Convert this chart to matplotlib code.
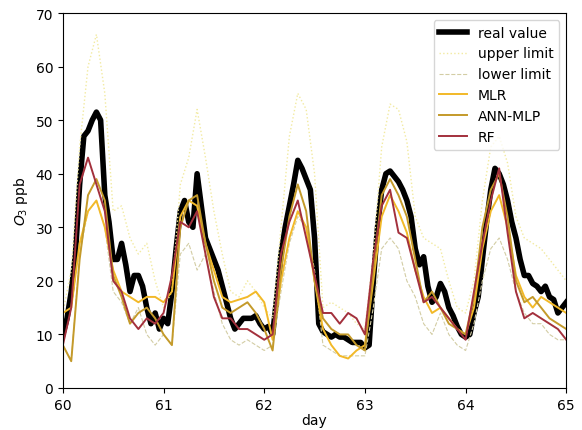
import matplotlib
matplotlib.use("Agg")
import matplotlib.pyplot as plt
import numpy as np

# hourly observed ozone, day 60.0 .. 65.0
real_value = [10, 13, 18, 25, 38, 47, 48, 50, 51.5, 50, 36, 31, 24, 24, 27, 23, 18, 21, 21, 19, 15, 12, 14, 11,
              13, 12, 18, 26, 33, 35, 31, 30, 40, 34, 28, 26, 24, 22, 19, 16, 13, 11, 12, 13, 13, 13, 13.5, 12,
              11, 11.5, 10, 17, 25, 30, 34, 38, 42.5, 41, 39, 37, 28, 12, 10.5, 10, 9.5, 10, 9.5, 9.5, 9, 8.5, 8.5, 8.5,
              7.5, 8, 20, 30, 37, 40, 40.5, 39.5, 38.5, 37, 35, 32, 26, 23, 24.5, 19, 16, 17, 19.5, 18, 15, 13.5, 11.5, 10,
              9.5, 10, 14, 17, 24, 31, 37, 41, 40, 38, 35, 31, 28, 24, 21, 21, 19.5, 19, 18, 19, 17, 16.5, 14, 15, 16]

# two-hourly model outputs and limits
upper_limit = [14, 22, 45, 60, 66, 55, 33, 34, 28, 25, 27, 20,
               15, 18, 38, 43, 52, 43, 33, 25, 18, 17, 20, 18,
               15, 13, 30, 47, 55, 52, 40, 15, 16, 15, 14, 12,
               11, 25, 45, 53, 52, 46, 32, 28, 27, 26, 20, 15,
               14, 20, 35, 45, 47, 42, 32, 28, 27, 26, 24, 22, 20]
lower_limit = [8, 5, 25, 33, 35, 30, 18, 16, 12, 15, 10, 8,
               10, 8, 25, 27, 22, 25, 18, 12, 9, 8, 9, 8,
               7, 8, 18, 27, 32, 30, 22, 8, 7, 6, 6, 6,
               6, 15, 26, 28, 26, 20, 17, 12, 10, 14, 10, 8,
               7, 12, 20, 26, 28, 24, 18, 14, 12, 12, 10, 9, 9]
mlr = [14, 15, 27, 33, 35, 30, 22, 18, 17, 16, 17, 17,
       16, 18, 32, 35, 34, 27, 22, 17, 16, 16.5, 17, 18,
       16, 9, 20, 28, 33, 30, 20, 11, 8, 6, 5.5, 7,
       8, 20, 32, 36, 33, 29, 22, 17, 14, 15, 13, 11,
       10, 15, 26, 33, 36, 30, 21, 17, 15, 17, 16, 15, 14]
ann_mlp = [8, 5, 24, 36, 39, 35, 21, 17, 12, 14, 15, 13,
           10, 8, 30, 35, 36, 27, 20, 15, 14, 15, 16, 14,
           11, 7, 22, 32, 38, 33, 20, 13, 11, 10, 10, 8,
           7, 22, 36, 39, 36, 32, 24, 16, 18, 15, 12, 11,
           10, 17, 30, 37, 40, 32, 20, 16, 17, 15, 13, 12, 11]
rf = [8, 15, 38, 43, 38, 33, 20, 18, 13, 11, 13, 12,
      14, 21, 31, 30, 33, 25, 17, 13, 13, 11, 11, 10,
      9, 10, 25, 31, 35, 28, 21, 14, 14, 12, 14, 13,
      10, 24, 34, 37, 29, 28, 22, 16, 17, 15, 13, 11,
      9, 18, 27, 35, 41, 29, 18, 13, 14, 13, 12, 11, 9]

day_hourly = 60 + np.arange(len(real_value)) / 24.0
day_2h = 60 + np.arange(len(mlr)) * 2 / 24.0

fig = plt.figure(figsize=(5.82, 4.31), dpi=100)
ax = fig.add_axes([0.108, 0.0975, 0.865, 0.87])

ax.plot(day_hourly, real_value, color="black", lw=4, label="real value")
ax.plot(day_2h, upper_limit, color="#f2eaa0", lw=1, ls=":", label="upper limit")
ax.plot(day_2h, lower_limit, color="#d3cda4", lw=0.8, ls="--", label="lower limit")
ax.plot(day_2h, mlr, color="#f2b928", lw=1.4, label="MLR")
ax.plot(day_2h, ann_mlp, color="#c49a2a", lw=1.4, label="ANN-MLP")
ax.plot(day_2h, rf, color="#a3303c", lw=1.4, label="RF")

ax.set_xlim(60, 65)
ax.set_ylim(0, 70)
ax.set_xlabel("day", labelpad=1)
ax.set_ylabel("$O_3$ ppb")
ax.legend(loc="upper right")

fig.savefig("out.png", dpi=100)
